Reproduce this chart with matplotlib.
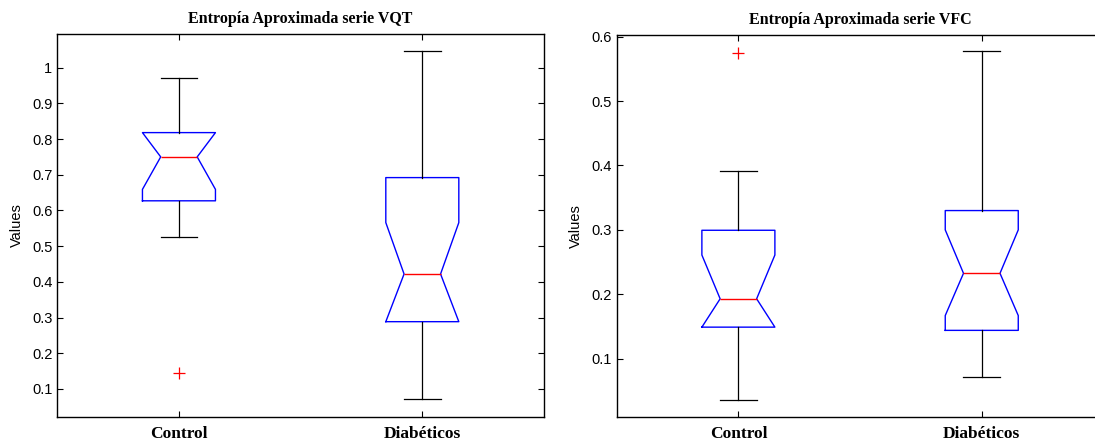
import numpy as np
import matplotlib.pyplot as plt
from matplotlib.ticker import FormatStrFormatter

# values (MATLAB notched boxplots)
groups = ['Control', 'Diabéticos']

# Entropía Aproximada serie VQT
vqt_whislo = [0.526, 0.072]
vqt_q1 = [0.627, 0.2885]
vqt_cilo = [0.659, 0.2885]
vqt_med = [0.750, 0.422]
vqt_cihi = [0.818, 0.566]
vqt_q3 = [0.818, 0.692]
vqt_whishi = [0.972, 1.047]
vqt_fliers = [[0.144], []]

# Entropía Aproximada serie VFC
vfc_whislo = [0.0364, 0.071]
vfc_q1 = [0.149, 0.144]
vfc_cilo = [0.149, 0.167]
vfc_med = [0.193, 0.2326]
vfc_cihi = [0.261, 0.300]
vfc_q3 = [0.2994, 0.330]
vfc_whishi = [0.391, 0.577]
vfc_fliers = [[0.575], []]


def make_stats(whislo, q1, cilo, med, cihi, q3, whishi, fliers):
    stats = []
    for i in range(len(groups)):
        stats.append(dict(label=groups[i], whislo=whislo[i], q1=q1[i],
                          cilo=cilo[i], med=med[i], cihi=cihi[i], q3=q3[i],
                          whishi=whishi[i], fliers=np.array(fliers[i])))
    return stats


def matlab_box(ax, stats, title, ylim, yticks):
    ax.bxp(stats, positions=[1, 2], widths=0.3, shownotches=True,
           boxprops=dict(color='#0000ff', linewidth=1.0),
           medianprops=dict(color='#ff0000', linewidth=1.0),
           whiskerprops=dict(color='black', linewidth=0.9),
           capprops=dict(color='black', linewidth=0.9),
           flierprops=dict(marker='+', markeredgecolor='#ff0000',
                           markersize=8, markeredgewidth=0.9, linestyle='none'))
    ax.set_xlim(0.5, 2.5)
    ax.set_ylim(*ylim)
    ax.tick_params(direction='in', top=True, right=True, length=4, width=0.8)
    ax.tick_params(axis='y', labelsize=10.5)
    ax.tick_params(axis='x', pad=6.5)
    ax.set_yticks(yticks)
    ax.yaxis.set_major_formatter(FormatStrFormatter('%g'))
    for lbl in ax.get_yticklabels():
        lbl.set_fontfamily('Liberation Sans')
    ax.set_xticks([1, 2])
    ax.set_xticklabels(groups, fontfamily='Liberation Serif',
                       fontweight='bold', fontsize=12.5)
    ax.set_ylabel('Values', fontfamily='Liberation Sans', fontsize=10.5,
                  labelpad=6)
    ax.set_title(title, fontfamily='Liberation Serif', fontweight='bold',
                 fontsize=11.5, pad=8)
    for s in ax.spines.values():
        s.set_linewidth(1.0)


fig = plt.figure(figsize=(10.95, 4.44), dpi=100)
ax1 = fig.add_axes([0.0523, 0.0615, 0.4445, 0.8626])
ax2 = fig.add_axes([0.5632, 0.0601, 0.4445, 0.8617])

matlab_box(ax1, make_stats(vqt_whislo, vqt_q1, vqt_cilo, vqt_med, vqt_cihi,
                           vqt_q3, vqt_whishi, vqt_fliers),
           'Entropía Aproximada serie VQT', (0.0224, 1.095),
           np.arange(1, 11) / 10)
matlab_box(ax2, make_stats(vfc_whislo, vfc_q1, vfc_cilo, vfc_med, vfc_cihi,
                           vfc_q3, vfc_whishi, vfc_fliers),
           'Entropía Aproximada serie VFC', (0.009, 0.603),
           np.arange(1, 7) / 10)

fig.savefig('out.png', dpi=100)
